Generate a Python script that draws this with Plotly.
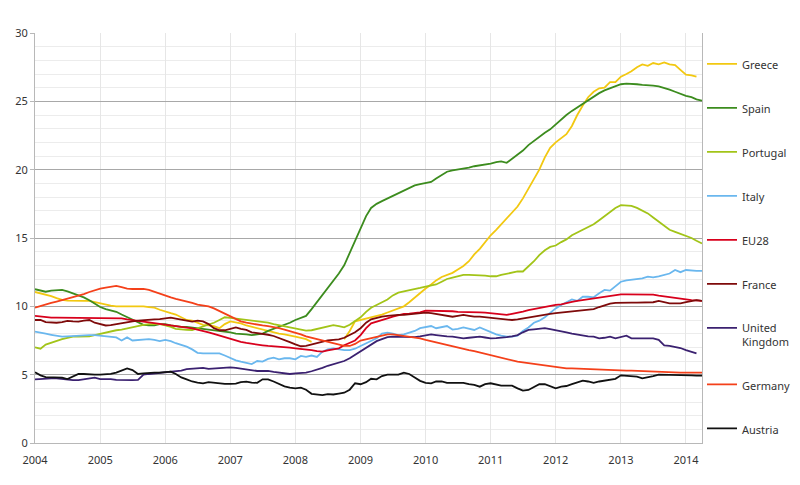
import pandas as pd
import plotly.graph_objects as go

months = pd.date_range("2004-01-01", "2014-04-01", freq="MS").strftime("%Y-%m-%d").tolist()

greece = [11.05, 10.95, 10.85, 10.75, 10.6, 10.47, 10.42, 10.4, 10.4, 10.4, 10.4, 10.3,
          10.2, 10.1, 10.05, 10.0, 10.0, 10.0, 10.05, 10.05, 10.0, 9.95, 9.9, 9.75,
          9.6, 9.5, 9.4, 9.2, 9.0, 8.95, 8.8, 8.65, 8.6, 8.55, 8.4, 8.7,
          8.9, 8.85, 8.75, 8.6, 8.5, 8.4, 8.25, 8.15, 8.05, 8.0, 7.95, 7.85,
          7.78, 7.7, 7.6, 7.4, None, None, None, None, None, 7.6, 8.2, 8.9,
          9.0, 9.1, 9.2, 9.3, 9.4, 9.55, 9.7, 9.8, 10.0, 10.3, 10.65, 10.95,
          11.3, 11.6, 11.9, 12.15, 12.3, 12.45, 12.7, 12.95, 13.3, 13.8, 14.2, 14.7,
          15.2, 15.6, 16.0, 16.4, 16.8, 17.3, 17.9, 18.6, 19.4, 20.0, 20.9, 21.6,
          22.0, 22.3, 22.6, 23.2, 24.0, 24.7, 25.3, 25.7, 25.95, 26.0, 26.4, 26.4,
          26.8, 27.0, 27.2, 27.5, 27.7, 27.6, 27.8, 27.7, 27.85, 27.7, 27.65, 27.3,
          26.95, 26.9, 26.8, None]

spain = [11.25, 11.15, 11.07, 11.15, 11.2, 11.2, 11.1, 10.95, 10.85, 10.65, 10.45, 10.2,
         9.95, 9.8, 9.7, 9.6, 9.4, 9.2, 9.0, 8.8, 8.65, 8.6, 8.6, 8.7,
         8.7, 8.6, 8.55, 8.5, 8.5, 8.45, 8.45, 8.4, 8.35, 8.3, 8.25, 8.2,
         8.1, 8.0, 8.0, 7.95, 7.9, 7.95, 8.0, 8.2, 8.35, 8.5, 8.65, 8.8,
         9.0, 9.15, 9.3, 9.8, 10.3, 10.8, 11.3, 11.8, 12.4, 13.0, 13.9, 14.8,
         15.8, 16.6, 17.2, 17.5, 17.7, 17.9, 18.1, 18.3, 18.5, 18.7, 18.85, 18.95,
         19.0, 19.1, 19.35, 19.6, 19.85, 19.95, 20.0, 20.1, 20.15, 20.25, 20.3, 20.4,
         20.45, 20.55, 20.6, 20.5, 20.8, 21.1, 21.4, 21.8, 22.1, 22.45, 22.7, 22.95,
         23.3, 23.7, 24.0, 24.3, 24.55, 24.8, 25.1, 25.35, 25.6, 25.8, 25.95, 26.1,
         26.25, 26.3, 26.3, 26.25, 26.2, 26.2, 26.15, 26.1, 26.0, 25.85, 25.7, 25.55,
         25.4, 25.3, 25.15, 25.05]

portugal = [7.0, 6.9, 7.2, 7.35, 7.5, 7.6, 7.7, 7.78, 7.78, 7.78, 7.8, 7.9,
            8.0, 8.1, 8.2, 8.25, 8.3, 8.4, 8.5, 8.6, 8.65, 8.7, 8.7, 8.7,
            8.6, 8.5, 8.35, 8.3, 8.28, 8.27, 8.4, 8.5, 8.63, 8.8, 9.0, 9.2,
            9.15, 9.1, 9.07, 9.05, 9.0, 8.95, 8.88, 8.8, 8.7, 8.62, 8.55, 8.45,
            8.4, 8.3, 8.22, 8.25, 8.35, 8.45, 8.55, 8.63, 8.55, 8.46, 8.65, 8.9,
            9.2, 9.6, 9.9, 10.1, 10.3, 10.5, 10.8, 11.0, 11.1, 11.2, 11.3, 11.35,
            11.45, 11.5, 11.6, 11.8, 12.0, 12.1, 12.2, 12.3, 12.3, 12.3, 12.3, 12.25,
            12.2, 12.2, 12.3, 12.4, 12.5, 12.55, 12.55, 12.9, 13.3, 13.75, 14.1, 14.35,
            14.45, 14.7, 14.9, 15.2, 15.4, 15.6, 15.8, 16.0, 16.3, 16.6, 16.9, 17.2,
            17.4, 17.4, 17.35, 17.2, 17.0, 16.8, 16.5, 16.2, 15.9, 15.6, 15.45, 15.3,
            15.1, 15.0, 14.8, 14.6]

italy = [8.15, 8.1, 8.0, 7.92, 7.85, 7.78, 7.8, 7.83, 7.85, 7.9, 7.9, 7.9,
         7.85, 7.78, 7.75, 7.73, 7.5, 7.73, 7.5, 7.55, 7.6, 7.6, 7.55, 7.46,
         7.54, 7.45, 7.3, 7.2, 7.05, 6.85, 6.6, 6.56, 6.56, 6.56, 6.56, 6.4,
         6.2, 6.05, 5.95, 5.85, 5.78, 6.0, 5.95, 6.15, 6.24, 6.12, 6.2, 6.2,
         6.12, 6.37, 6.3, 6.4, 6.3, 6.68, 6.85, 6.93, 6.85, 6.8, 6.8, 6.9,
         7.1, 7.3, 7.45, 7.66, 8.0, 8.07, 8.0, 7.9, 7.95, 8.07, 8.2, 8.4,
         8.5, 8.56, 8.4, 8.5, 8.56, 8.3, 8.35, 8.46, 8.35, 8.27, 8.46, 8.3,
         8.1, 7.95, 7.85, 7.78, 7.78, 7.85, 8.2, 8.45, 8.8, 8.95, 9.2, 9.55,
         9.85, 10.1, 10.3, 10.5, 10.4, 10.7, 10.7, 10.66, 10.95, 11.2, 11.15, 11.5,
         11.8, 11.9, 11.93, 12.0, 12.05, 12.17, 12.12, 12.2, 12.3, 12.4, 12.66, 12.5,
         12.66, 12.62, 12.6, 12.6]

eu28 = [9.3, 9.25, 9.2, 9.17, 9.17, 9.17, 9.17, 9.17, 9.17, 9.17, 9.17, 9.17,
        9.17, 9.17, 9.17, 9.15, 9.12, 9.05, 9.0, 8.95, 8.9, 8.85, 8.8, 8.75,
        8.7, 8.65, 8.6, 8.5, 8.45, 8.38, 8.3, 8.2, 8.1, 7.98, 7.85, 7.72,
        7.6, 7.5, 7.4, 7.32, 7.25, 7.2, 7.15, 7.1, 7.08, 7.05, 7.02, 6.98,
        6.93, 6.9, 6.85, 6.8, 6.72, 6.68, 6.78, 6.85, 6.93, 7.15, 7.3, 7.5,
        7.9, 8.4, 8.76, 8.9, 9.0, 9.12, 9.24, 9.35, 9.44, 9.47, 9.5, 9.55,
        9.68, 9.68, 9.68, 9.68, 9.66, 9.64, 9.6, 9.6, 9.6, 9.58, 9.56, 9.54,
        9.5, 9.44, 9.4, 9.37, 9.45, 9.52, 9.62, 9.72, 9.8, 9.9, 9.97, 10.03,
        10.1, 10.15, 10.25, 10.32, 10.4, 10.46, 10.5, 10.58, 10.65, 10.72, 10.78, 10.85,
        10.88, 10.88, 10.88, 10.88, 10.88, 10.88, 10.85, 10.78, 10.72, 10.66, 10.6, 10.54,
        10.5, 10.46, 10.43, 10.4]

france = [9.0, 9.0, 8.85, 8.8, 8.8, 8.85, 8.93, 8.9, 8.88, 8.95, 9.0, 8.8,
          8.7, 8.6, 8.62, 8.7, 8.75, 8.83, 8.9, 8.95, 9.0, 9.02, 9.05, 9.07,
          9.1, 9.17, 9.1, 9.0, 8.95, 8.88, 8.95, 8.9, 8.7, 8.4, 8.25, 8.25,
          8.35, 8.46, 8.35, 8.27, 8.1, 8.05, 8.0, 7.92, 7.83, 7.7, 7.54, 7.38,
          7.22, 7.08, 7.1, 7.2, 7.35, 7.45, 7.5, 7.54, 7.58, 7.7, 7.88, 8.1,
          8.4, 8.8, 9.05, 9.18, 9.25, 9.3, 9.35, 9.37, 9.37, 9.4, 9.45, 9.5,
          9.54, 9.5, 9.44, 9.35, 9.3, 9.24, 9.3, 9.37, 9.3, 9.24, 9.24, 9.2,
          9.17, 9.12, 9.05, 9.02, 9.0, 9.05, 9.12, 9.2, 9.25, 9.32, 9.4, 9.45,
          9.5, 9.54, 9.6, 9.63, 9.66, 9.7, 9.75, 9.8, 9.95, 10.1, 10.2, 10.25,
          10.27, 10.27, 10.27, 10.27, 10.27, 10.27, 10.3, 10.4, 10.3, 10.22, 10.22, 10.22,
          10.3, 10.4, 10.46, 10.4]

uk = [4.66, 4.7, 4.73, 4.73, 4.73, 4.68, 4.65, 4.6, 4.6, 4.65, 4.72, 4.78,
      4.68, 4.7, 4.68, 4.62, 4.6, 4.63, 4.6, 4.62, 5.0, 5.05, 5.1, 5.12,
      5.15, 5.2, 5.25, 5.3, 5.4, 5.45, 5.5, 5.5, 5.42, 5.45, 5.5, 5.5,
      5.53, 5.5, 5.45, 5.4, 5.3, 5.27, 5.27, 5.27, 5.2, 5.15, 5.08, 5.05,
      5.1, 5.12, 5.15, 5.25, 5.35, 5.5, 5.65, 5.75, 5.85, 6.0, 6.2, 6.45,
      6.7, 7.0, 7.25, 7.45, 7.6, 7.75, 7.78, 7.78, 7.75, 7.73, 7.75, 7.8,
      7.9, 7.95, 7.9, 7.83, 7.8, 7.78, 7.7, 7.66, 7.7, 7.73, 7.78, 7.72,
      7.66, 7.68, 7.7, 7.75, 7.8, 7.9, 8.1, 8.27, 8.32, 8.36, 8.4, 8.33,
      8.27, 8.2, 8.1, 8.0, 7.92, 7.85, 7.8, 7.78, 7.66, 7.7, 7.78, 7.66,
      7.75, 7.85, 7.66, 7.66, 7.66, 7.66, 7.66, 7.55, 7.15, 7.1, 7.05, 6.95,
      6.8, 6.7, 6.56, None]

germany = [9.9, 10.0, 10.15, 10.25, 10.35, 10.45, 10.55, 10.65, 10.8, 10.9, 11.05, 11.2,
           11.3, 11.37, 11.42, 11.5, 11.4, 11.3, 11.27, 11.27, 11.27, 11.2, 11.05, 10.9,
           10.76, 10.65, 10.55, 10.46, 10.35, 10.25, 10.12, 10.05, 10.0, 9.85, 9.65, 9.45,
           9.25, 9.05, 8.9, 8.8, 8.72, 8.66, 8.6, 8.55, 8.5, 8.4, 8.3, 8.2,
           8.05, 7.95, 7.8, 7.7, 7.6, 7.5, 7.4, 7.3, 7.18, 7.1, 7.1, 7.25,
           7.5, 7.6, 7.68, 7.75, 7.85, 7.95, 7.95, 7.9, 7.85, 7.75, 7.7, 7.66,
           7.55, 7.45, 7.35, 7.25, 7.15, 7.05, 6.95, 6.88, 6.8, 6.72, 6.62, 6.5,
           6.4, 6.3, 6.2, 6.1, 6.0, 5.95, 5.9, 5.85, 5.78, 5.72, 5.68, 5.63,
           5.55, 5.5, 5.46, 5.46, 5.44, 5.42, 5.4, 5.38, 5.36, 5.34, 5.34, 5.32,
           5.3, 5.3, 5.3, 5.28, 5.25, 5.22, 5.22, 5.2, 5.2, 5.18, 5.15, 5.15,
           5.15, 5.15, 5.15, 5.15]

austria = [5.17, 4.95, 4.82, 4.8, 4.78, 4.78, 4.68, 4.85, 5.05, 5.05, 5.0, 5.0,
           5.0, 5.0, 5.05, 5.15, 5.3, 5.46, 5.34, 5.05, 5.1, 5.15, 5.15, 5.15,
           5.2, 5.22, 5.05, 4.8, 4.65, 4.5, 4.42, 4.37, 4.45, 4.4, 4.35, 4.32,
           4.32, 4.35, 4.45, 4.49, 4.42, 4.4, 4.66, 4.66, 4.5, 4.3, 4.15, 4.05,
           4.0, 4.05, 3.9, 3.6, 3.55, 3.5, 3.58, 3.55, 3.62, 3.68, 3.9, 4.37,
           4.3, 4.45, 4.7, 4.66, 4.9, 5.0, 5.0, 5.0, 5.15, 5.05, 4.8, 4.55,
           4.4, 4.37, 4.5, 4.5, 4.4, 4.4, 4.4, 4.4, 4.3, 4.25, 4.12, 4.3,
           4.37, 4.3, 4.2, 4.2, 4.2, 4.0, 3.83, 3.88, 4.12, 4.3, 4.3, 4.15,
           4.0, 4.12, 4.17, 4.3, 4.45, 4.56, 4.5, 4.4, 4.5, 4.56, 4.6, 4.7,
           4.95, 4.93, 4.88, 4.85, 4.73, 4.8, 4.9, 5.0, 5.0, 5.0, 5.0, 5.0,
           5.0, 4.95, 4.93, 4.93]

series_names = ["Greece", "Spain", "Portugal", "Italy", "EU28", "France",
                "United<br>Kingdom", "Germany", "Austria"]
series_values = [greece, spain, portugal, italy, eu28, france, uk, germany, austria]
series_colors = ["#F2C811", "#3C8C1E", "#A2C418", "#6AB7EE", "#D8001C", "#7E0A0A",
                 "#3B2170", "#F4401A", "#111111"]

year_ticks = ["2004-01-01", "2005-01-01", "2006-01-01", "2007-01-01", "2008-01-01",
              "2009-01-01", "2010-01-01", "2011-01-01", "2012-01-01", "2013-01-01", "2014-01-01"]
year_labels = ["2004", "2005", "2006", "2007", "2008", "2009", "2010", "2011", "2012", "2013", "2014"]

fig = go.Figure()
for i, (name, vals, col) in enumerate(zip(series_names, series_values, series_colors)):
    fig.add_trace(go.Scatter(x=months, y=vals, mode="lines", name=name,
                             legendgroup="g%d" % i,
                             line=dict(color=col, width=1.8),
                             connectgaps=False))

font_family = "Noto Sans, Open Sans, sans-serif"
fig.update_layout(
    width=784, height=469,
    margin=dict(l=27, r=90, t=25, b=34, autoexpand=False),
    paper_bgcolor="white", plot_bgcolor="white",
    font=dict(family=font_family, size=11, color="#333333"),
    showlegend=True,
    legend=dict(x=1.0, xanchor="left", y=0.958, yanchor="top",
                tracegroupgap=25, itemwidth=30, valign="top",
                bgcolor="rgba(0,0,0,0)", font=dict(size=11, color="#333333")),
    xaxis=dict(type="date", range=["2004-01-01", "2014-04-01"],
               tickmode="array", tickvals=year_ticks, ticktext=year_labels,
               showgrid=True, gridcolor="#e6e6e6", gridwidth=1,
               showline=True, linecolor="#b8b8b8", linewidth=1,
               ticks="outside", ticklen=7, tickcolor="rgba(0,0,0,0)",
               zeroline=False, tickfont=dict(size=11, color="#333333")),
    yaxis=dict(range=[0, 30], dtick=5, tick0=0,
               showgrid=True, gridcolor="#a8a8a8", gridwidth=1,
               minor=dict(dtick=1, showgrid=True, gridcolor="#ececec", gridwidth=1),
               showline=True, linecolor="#b8b8b8", linewidth=1, mirror=True,
               ticks="outside", ticklen=4, tickcolor="#b8b8b8",
               zeroline=False, tickfont=dict(size=11, color="#333333")),
)

fig.write_html("out.html")
